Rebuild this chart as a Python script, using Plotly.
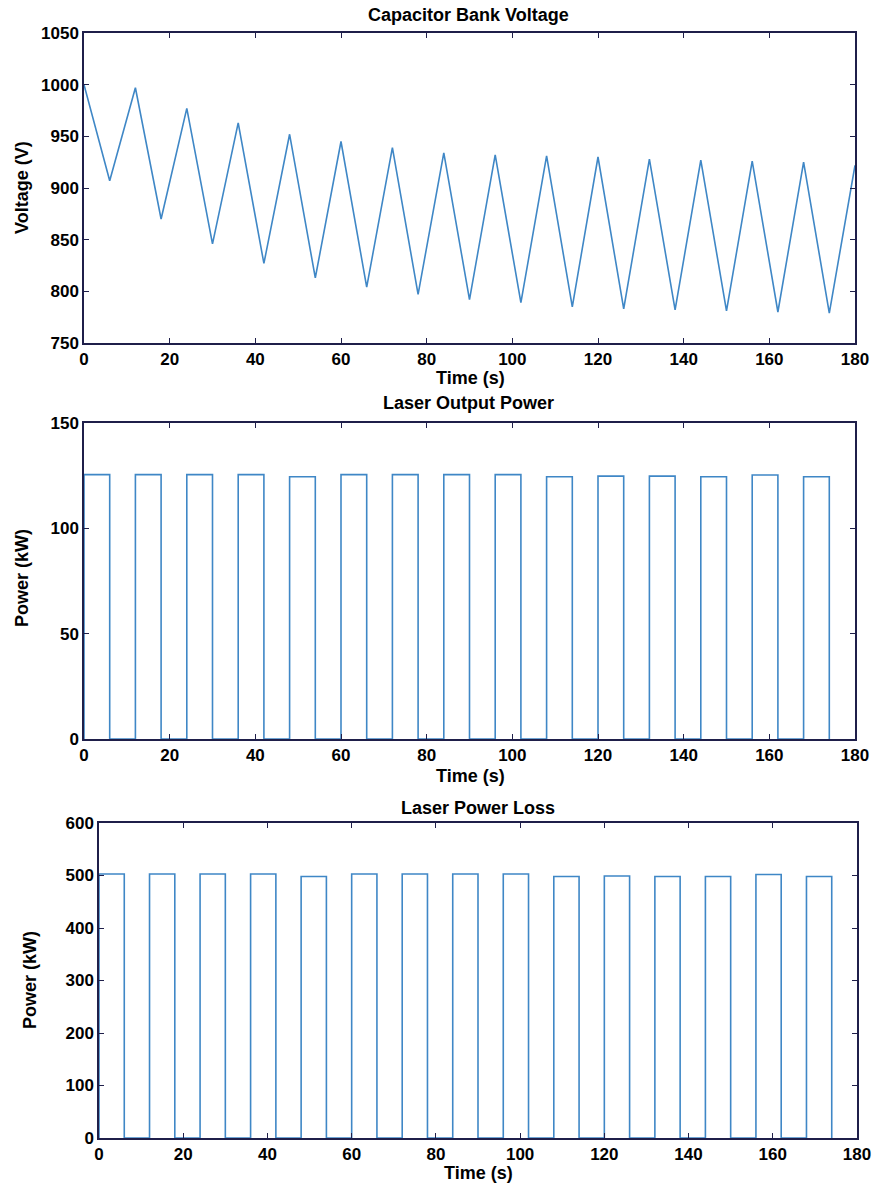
import plotly.graph_objects as go

# ---- data ----
volt_t = [0, 6, 12, 18, 24, 30, 36, 42, 48, 54, 60, 66, 72, 78, 84, 90, 96, 102,
          108, 114, 120, 126, 132, 138, 144, 150, 156, 162, 168, 174, 180]
volt_v = [1000, 907, 997, 870, 977, 846, 963, 827, 952, 813, 945, 804, 939, 797,
          934, 792, 932, 789, 931, 785, 930, 783, 928, 782, 927, 781, 926, 780,
          925, 779, 922]

pulse_start = [0, 12, 24, 36, 48, 60, 72, 84, 96, 108, 120, 132, 144, 156, 168]
pulse_end = [6, 18, 30, 42, 54, 66, 78, 90, 102, 114, 126, 138, 150, 162, 174]
out_power = [125.5, 125.5, 125.5, 125.5, 124.5, 125.5, 125.5, 125.5, 125.5,
             124.5, 124.8, 124.8, 124.5, 125.3, 124.5]
loss_power = [503, 503, 503, 503, 498, 503, 503, 503, 503, 498, 499, 498, 498, 502, 498]

x_ticks = [0, 20, 40, 60, 80, 100, 120, 140, 160, 180]


def steps(starts, ends, levels):
    xs, ys = [], []
    for s, e, lv in zip(starts, ends, levels):
        xs += [s, s, e, e]
        ys += [0, lv, lv, 0]
    return xs, ys


LINE = "#3f87c6"
AX = "#1f1f4a"
FONT = dict(family="Liberation Sans, Arial, sans-serif", size=17, color="black", weight="bold")

fig = go.Figure()
fig.add_trace(go.Scatter(x=volt_t, y=volt_v, mode="lines",
                         line=dict(color=LINE, width=1.6), xaxis="x", yaxis="y"))
px, py = steps(pulse_start, pulse_end, out_power)
fig.add_trace(go.Scatter(x=px, y=py, mode="lines",
                         line=dict(color=LINE, width=1.6), xaxis="x2", yaxis="y2"))
lx, ly = steps(pulse_start, pulse_end, loss_power)
fig.add_trace(go.Scatter(x=lx, y=ly, mode="lines",
                         line=dict(color=LINE, width=1.6), xaxis="x3", yaxis="y3"))

W, H = 877, 1192


def xdom(l, r):
    return [l / W, r / W]


def ydom(top, bot):
    return [1 - bot / H, 1 - top / H]


common = dict(showgrid=False, zeroline=False, showline=True, linecolor=AX, linewidth=1.5,
              mirror="ticks", ticks="inside", ticklen=5, tickcolor=AX, tickwidth=1.2,
              tickfont=FONT, automargin=False)

fig.update_layout(
    width=W, height=H, margin=dict(l=0, r=0, t=0, b=0, autoexpand=False),
    paper_bgcolor="white", plot_bgcolor="white", showlegend=False,
    xaxis=dict(domain=xdom(84, 855), anchor="y", range=[0, 180], tickvals=x_ticks, **common),
    yaxis=dict(domain=ydom(33, 343), anchor="x", range=[750, 1050],
               tickvals=[750, 800, 850, 900, 950, 1000, 1050], **common),
    xaxis2=dict(domain=xdom(84, 855), anchor="y2", range=[0, 180], tickvals=x_ticks, **common),
    yaxis2=dict(domain=ydom(423, 739), anchor="x2", range=[0, 150],
                tickvals=[0, 50, 100, 150], **common),
    xaxis3=dict(domain=xdom(99, 857), anchor="y3", range=[0, 180], tickvals=x_ticks, **common),
    yaxis3=dict(domain=ydom(823, 1138), anchor="x3", range=[0, 600],
                tickvals=[0, 100, 200, 300, 400, 500, 600], **common),
)

TFONT = dict(family="Liberation Sans, Arial, sans-serif", size=18, color="black", weight="bold")
anns = [
    ("Capacitor Bank Voltage", 469, 15, 0),
    ("Time (s)", 470, 378, 0),
    ("Voltage (V)", 22, 188, -90),
    ("Laser Output Power", 468, 403, 0),
    ("Time (s)", 470, 776, 0),
    ("Power (kW)", 22, 578, -90),
    ("Laser Power Loss", 478, 808, 0),
    ("Time (s)", 479, 1173, 0),
    ("Power (kW)", 30, 980, -90),
]
for text, x, y, ang in anns:
    fig.add_annotation(text=text, x=x / W, y=1 - y / H, xref="paper", yref="paper",
                       showarrow=False, font=TFONT, textangle=ang,
                       xanchor="center", yanchor="middle")

fig.write_html("out.html")
